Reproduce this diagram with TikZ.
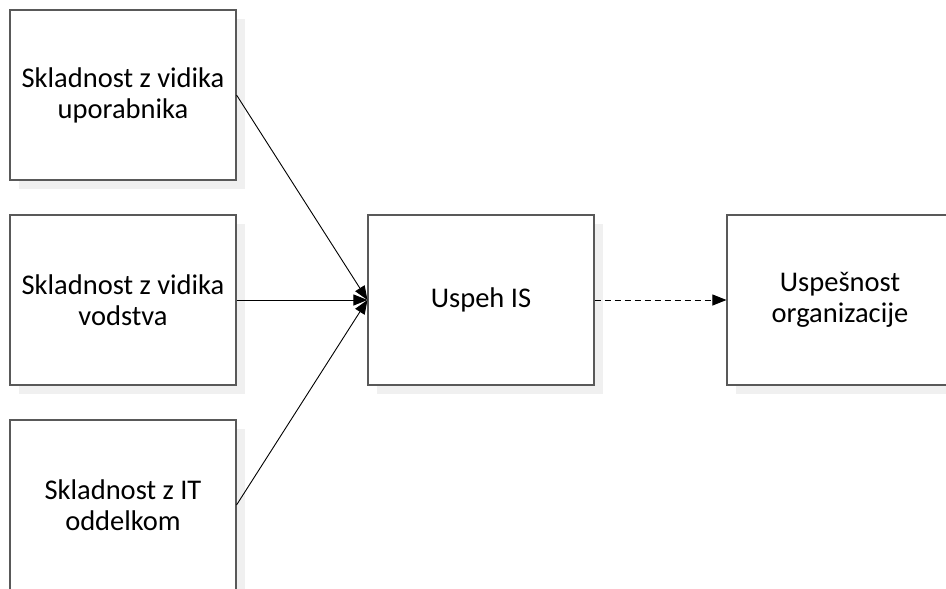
\documentclass[tikz,border=0pt]{standalone}
\usepackage{fontspec}
\setmainfont{Carlito}
\usetikzlibrary{arrows.meta,shadows}
\begin{document}
\begin{tikzpicture}[x=1pt,y=-1pt,
  box/.style={draw=black!65, line width=1.1pt, fill=white,
    minimum width=226pt, minimum height=170pt, inner sep=0pt,
    align=center,
    font=\fontsize{28.5}{31}\selectfont,
    drop shadow={shadow xshift=9pt, shadow yshift=-9pt, fill=black!6, opacity=1}},
  link/.style={line width=0.9pt, -{Triangle[length=14pt,width=11pt]}}]
  \useasboundingbox (0,0) rectangle (946,589);
  \node[box] (user) at (123,95) {Skladnost z vidika\\uporabnika};
  \node[box] (mgmt) at (123,300) {Skladnost z vidika\\vodstva};
  \node[box] (itdep) at (123,505) {Skladnost z IT\\oddelkom};
  \node[box] (is) at (481,300) {Uspeh IS};
  \node[box] (org) at (840,300) {Uspešnost\\organizacije};
  \draw[link] (user.east) -- (is.west);
  \draw[link] (mgmt.east) -- (is.west);
  \draw[link] (itdep.east) -- (is.west);
  \draw[link, dash pattern=on 6pt off 4pt] (is.east) -- (org.west);
\end{tikzpicture}
\end{document}
